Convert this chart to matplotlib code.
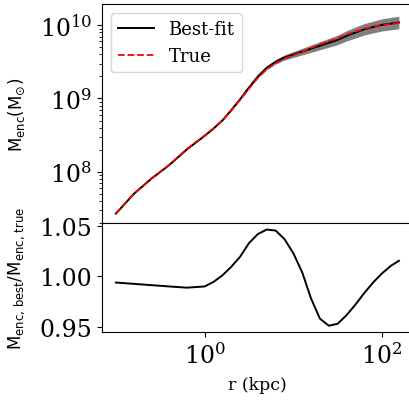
import numpy as np
import matplotlib
matplotlib.use("Agg")
import matplotlib.pyplot as plt
from matplotlib.ticker import FixedLocator, NullLocator

# ---- data ----
log_r = [-1.0, -0.8, -0.6, -0.4, -0.2, 0.0, 0.1, 0.2, 0.3, 0.4, 0.5, 0.6, 0.7,
         0.8, 0.9, 1.0, 1.1, 1.2, 1.3, 1.4, 1.5, 1.6, 1.7, 1.8, 1.9, 2.0, 2.1, 2.19]
log_m_best = [7.428, 7.695, 7.905, 8.09, 8.305, 8.49, 8.59, 8.70, 8.84, 8.99, 9.15,
              9.30, 9.42, 9.50, 9.56, 9.60, 9.64, 9.68, 9.72, 9.76, 9.80, 9.855,
              9.90, 9.945, 9.975, 10.005, 10.022, 10.037]
ratio = [0.9939, 0.9926, 0.9913, 0.9900, 0.9888, 0.9900, 0.9945, 1.001, 1.0095,
         1.0195, 1.033, 1.042, 1.0465, 1.0455, 1.037, 1.023, 1.004, 0.978, 0.958,
         0.951, 0.953, 0.9615, 0.972, 0.9835, 0.994, 1.003, 1.0105, 1.0155]
band_dex = [0.002, 0.002, 0.002, 0.002, 0.003, 0.004, 0.005, 0.006, 0.008, 0.010,
            0.014, 0.020, 0.025, 0.030, 0.035, 0.040, 0.045, 0.050, 0.055, 0.060,
            0.065, 0.070, 0.075, 0.078, 0.080, 0.083, 0.085, 0.085]

r = 10 ** np.array(log_r)
m_best = 10 ** np.array(log_m_best)
m_true = m_best / np.array(ratio)
m_lo = 10 ** (np.array(log_m_best) - np.array(band_dex))
m_hi = 10 ** (np.array(log_m_best) + np.array(band_dex))

plt.rcParams['font.family'] = ['DejaVu Serif']

fig = plt.figure(figsize=(4.09, 4.02), dpi=100)
left = 0.2487
width = 1.01 - left
ax1 = fig.add_axes([left, 0.4428, width, 0.9876 - 0.4428])
ax2 = fig.add_axes([left, 0.1709, width, 0.4428 - 0.1709], sharex=ax1)

ax1.fill_between(r, m_lo, m_hi, color='gray', lw=0)
ax1.plot(r, m_best, color='black', lw=1.4, label='Best-fit')
ax1.plot(r, m_true, color='red', ls='--', lw=1.3, label='True')
ax1.set_xscale('log')
ax1.set_yscale('log')
ax1.set_ylim(10**7.30, 10**10.29)
ax1.set_ylabel(r'$\mathrm{M_{enc}(M_{\odot})}$', fontsize=12)
ax1.yaxis.set_label_coords(-0.24, 0.5)
ax1.tick_params(axis='y', labelsize=17)
ax1.tick_params(axis='x', which='both', bottom=False, labelbottom=False)
ax1.legend(loc='upper left', fontsize=13, handlelength=2.0)

ax2.plot(r, ratio, color='black', lw=1.4)
ax2.set_ylim(0.9445, 1.053)
ax2.set_yticks([0.95, 1.00, 1.05])
ax2.set_yticklabels(['0.95', '1.00', '1.05'])
ax2.set_xlim(10**-1.16, 10**2.35)
ax2.xaxis.set_major_locator(FixedLocator([1, 100]))
ax2.xaxis.set_minor_locator(NullLocator())
ax2.tick_params(labelsize=17)
ax2.set_xlabel('r (kpc)', fontsize=12.5, labelpad=6)
ax2.set_ylabel(r'$\mathrm{M_{enc,\,best}/M_{enc,\,true}}$', fontsize=12)
ax2.yaxis.set_label_coords(-0.24, 0.5)

fig.savefig('out.png', dpi=100)
